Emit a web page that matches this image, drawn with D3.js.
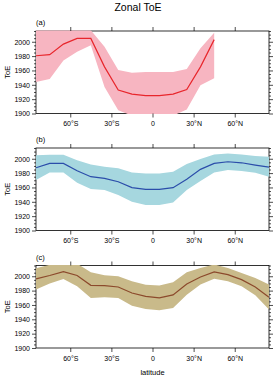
<!DOCTYPE html>
<html>
<head>
<meta charset="utf-8">
<script src="https://d3js.org/d3.v7.min.js"></script>
<style>
  body { margin: 0; background: #fff; }
  svg text { font-family: "Liberation Sans", Arial, sans-serif; }
</style>
</head>
<body>
<div id="chart"></div>
<script>
const width = 275
const height = 376

// latitude bands (10 degree bins)
const lats = [-85, -75, -65, -55, -45, -35, -25, -15, -5, 5, 15, 25, 35, 45, 55, 65, 75, 85]
const xTicks = [-60, -30, 0, 30, 60]
const xTickLabels = ["60°S", "30°S", "0", "30°N", "60°N"]
const yTicks = [1900, 1920, 1940, 1960, 1980, 2000]

// (a) - no data north of 45N
const meanA = [1980.5, 1982, 1996.7, 2004.6, 2004.6, 1965, 1932.6, 1927, 1925, 1925, 1927, 1933.5, 1965, 2003, null, null, null, null]
const upperA = [2022, 2024, 2022, 2020, 2016, 1993, 1960.5, 1956.7, 1957.7, 1957.7, 1957.7, 1962, 1991, 2012.6, null, null, null, null]
const lowerA = [1944, 1948, 1974, 1986, 1995, 1937, 1904.6, 1897, 1895, 1895, 1897, 1905.6, 1939.5, 1949, null, null, null, null]

// (b)
const meanB = [1987.5, 1993.5, 1993.5, 1983.3, 1975, 1972.7, 1968, 1959.7, 1957.4, 1957.4, 1959.7, 1971.3, 1985.2, 1993.5, 1995.8, 1994.4, 1991.2, 1988.4]
const upperB = [2005, 2005.5, 2005.5, 1998, 1992, 1989, 1986.6, 1981, 1979.6, 1979.6, 1982, 1992.6, 1999.5, 2006, 2007.4, 2006, 2003.7, 2002.8]
const lowerB = [1970.4, 1981, 1981, 1966.7, 1958, 1956.5, 1949.5, 1940, 1935.6, 1935.6, 1939, 1956.5, 1969, 1981, 1984.3, 1982.9, 1980.6, 1975]

// (c)
const meanC = [1996.3, 2001, 2006.5, 2001, 1987.4, 1987, 1985, 1976.7, 1972, 1969.8, 1974, 1989.3, 1999, 2006, 2002.3, 1995.3, 1985, 1970.7]
const upperC = [2011, 2016, 2020, 2017.6, 2005.6, 2001.4, 2000, 1993, 1988, 1987, 1991.6, 2005.6, 2011.6, 2016.5, 2011.6, 2004.7, 1997.7, 1988.4]
const lowerC = [1981.4, 1989.8, 1996.3, 1986, 1969.8, 1970.7, 1969.8, 1959, 1954.4, 1952.6, 1955.8, 1974.4, 1988.4, 1996.7, 1993, 1986, 1973.5, 1953.5]

const panels = [
  { label: "(a)", mean: meanA, upper: upperA, lower: lowerA, fill: "#F7B5C1", stroke: "#E8262C", top: 31 },
  { label: "(b)", mean: meanB, upper: upperB, lower: lowerB, fill: "#A6D7DF", stroke: "#2B4DAA", top: 148 },
  { label: "(c)", mean: meanC, upper: upperC, lower: lowerC, fill: "#C9BA8A", stroke: "#8C4A2C", top: 265.5 }
]

const left = 36
const right = 269
const plotH = 82.5
const tickLen = 4

let svg = d3.select("#chart")
  .append("svg")
  .attr("width", width)
  .attr("height", height)

let x = d3.scaleLinear().domain([-85, 85]).range([left, right])

svg.append("text")
  .attr("x", 138)
  .attr("y", 10.5)
  .attr("text-anchor", "middle")
  .style("font-size", "10.5px")
  .text("Zonal ToE")

panels.forEach((p, k) => {
  let y = d3.scaleLinear().domain([1900, 2015]).range([p.top + plotH, p.top])
  let g = svg.append("g")

  // frame
  g.append("rect")
    .attr("x", left)
    .attr("y", p.top)
    .attr("width", right - left)
    .attr("height", plotH)
    .attr("fill", "none")
    .attr("stroke", "#000")
    .attr("stroke-width", 0.8)

  g.append("clipPath")
    .attr("id", "clip" + k)
    .append("rect")
    .attr("x", left - 0.5)
    .attr("y", p.top - 0.5)
    .attr("width", right - left + 1)
    .attr("height", plotH + 1)

  const rows = lats.map((lat, i) => ({ lat: lat, m: p.mean[i], hi: p.upper[i], lo: p.lower[i] }))

  let area = d3.area()
    .defined(d => d.m !== null)
    .x(d => x(d.lat))
    .y0(d => y(d.lo))
    .y1(d => y(d.hi))

  let line = d3.line()
    .defined(d => d.m !== null)
    .x(d => x(d.lat))
    .y(d => y(d.m))

  let inner = g.append("g").attr("clip-path", "url(#clip" + k + ")")
  inner.append("path")
    .attr("d", area(rows))
    .attr("fill", p.fill)
  inner.append("path")
    .attr("d", line(rows))
    .attr("fill", "none")
    .attr("stroke", p.stroke)
    .attr("stroke-width", 1.2)

  // y axis, left with labels, right without
  let yAxisL = d3.axisLeft(y).tickValues(yTicks).tickSize(tickLen).tickPadding(2).tickFormat(d3.format("d"))
  let yAxisR = d3.axisRight(y).tickValues(yTicks).tickSize(tickLen).tickFormat("")
  let minor = d3.range(1900, 2016, 5).filter(v => v % 20 !== 0)

  g.append("g").attr("transform", "translate(" + left + ",0)").call(yAxisL)
  g.append("g").attr("transform", "translate(" + right + ",0)").call(yAxisR)
  g.append("g").attr("transform", "translate(" + left + ",0)")
    .call(d3.axisLeft(y).tickValues(minor).tickSize(2).tickFormat(""))
  g.append("g").attr("transform", "translate(" + right + ",0)")
    .call(d3.axisRight(y).tickValues(minor).tickSize(2).tickFormat(""))

  // x axis
  let xAxisB = d3.axisBottom(x).tickValues(xTicks).tickSize(tickLen).tickPadding(4)
    .tickFormat((d, i) => xTickLabels[i])
  let xAxisT = d3.axisTop(x).tickValues(xTicks).tickSize(tickLen).tickFormat("")
  g.append("g").attr("transform", "translate(0," + (p.top + plotH) + ")").call(xAxisB)
  g.append("g").attr("transform", "translate(0," + p.top + ")").call(xAxisT)

  g.selectAll(".domain").remove()
  g.selectAll(".tick line").attr("stroke", "#000").attr("stroke-width", 0.7)
  g.selectAll(".tick text").style("font-size", "7px").attr("fill", "#000")

  g.append("text")
    .attr("x", left)
    .attr("y", p.top - 6)
    .style("font-size", "7.5px")
    .text(p.label)

  g.append("text")
    .attr("transform", "translate(10," + (p.top + plotH / 2) + ") rotate(-90)")
    .attr("text-anchor", "middle")
    .style("font-size", "7.5px")
    .text("ToE")
})

svg.append("text")
  .attr("x", x(0))
  .attr("y", 375)
  .attr("text-anchor", "middle")
  .style("font-size", "7.5px")
  .text("latitude")
</script>
</body>
</html>
